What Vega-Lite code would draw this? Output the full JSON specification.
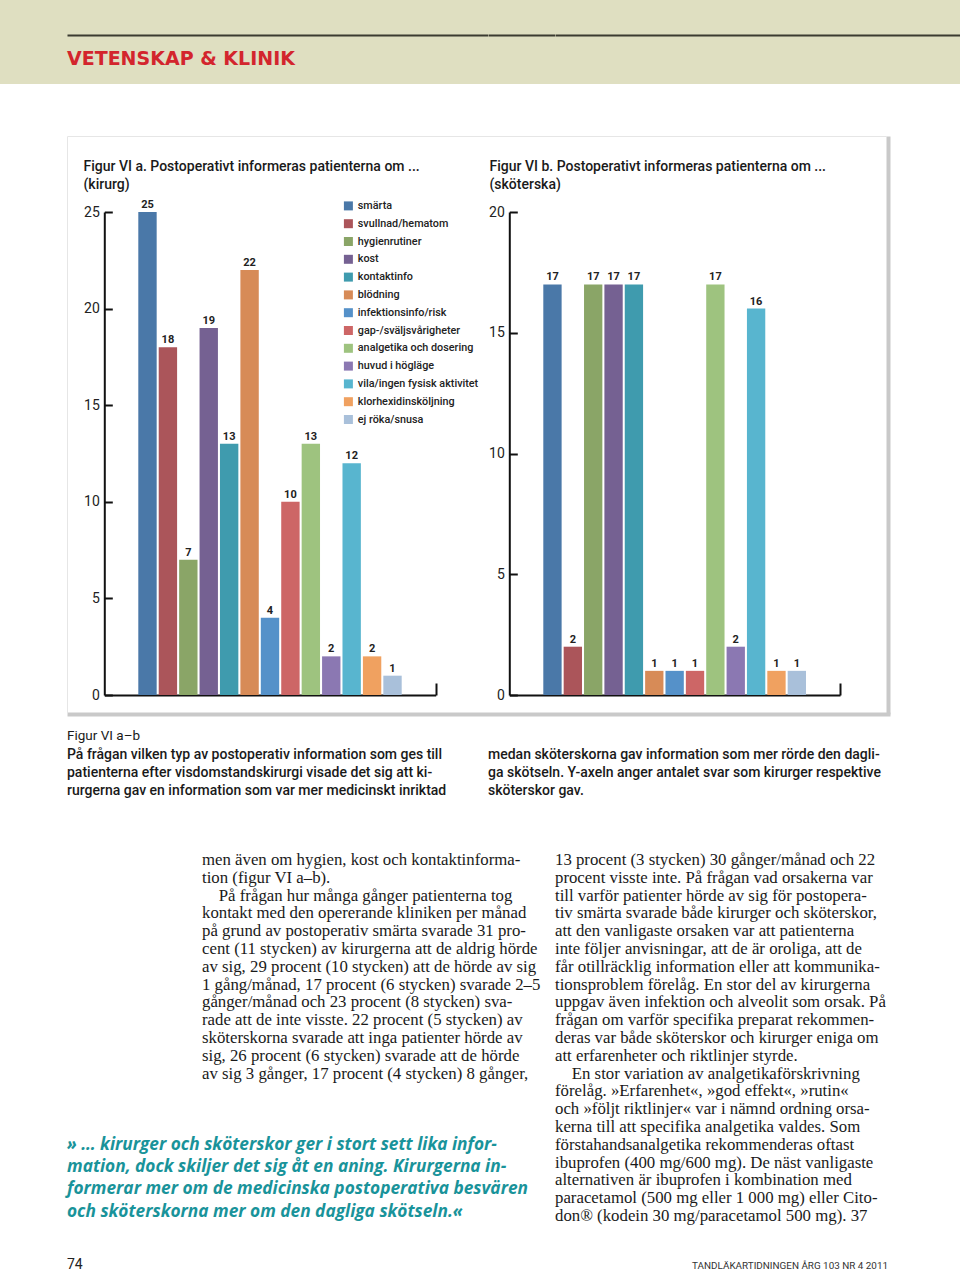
{
  "$schema": "https://vega.github.io/schema/vega-lite/v6.json",
  "padding": 0,
  "background": "white",
  "columns": 3,
  "spacing": 0,
  "bounds": "flush",
  "align": "each",
  "datasets": {
    "kirurg": [
      {"topic": "smärta", "n": 25},
      {"topic": "svullnad/hematom", "n": 18},
      {"topic": "hygienrutiner", "n": 7},
      {"topic": "kost", "n": 19},
      {"topic": "kontaktinfo", "n": 13},
      {"topic": "blödning", "n": 22},
      {"topic": "infektionsinfo/risk", "n": 4},
      {"topic": "gap-/sväljsvårigheter", "n": 10},
      {"topic": "analgetika och dosering", "n": 13},
      {"topic": "huvud i högläge", "n": 2},
      {"topic": "vila/ingen fysisk aktivitet", "n": 12},
      {"topic": "klorhexidinsköljning", "n": 2},
      {"topic": "ej röka/snusa", "n": 1}
    ],
    "skoterska": [
      {"topic": "smärta", "n": 17},
      {"topic": "svullnad/hematom", "n": 2},
      {"topic": "hygienrutiner", "n": 17},
      {"topic": "kost", "n": 17},
      {"topic": "kontaktinfo", "n": 17},
      {"topic": "blödning", "n": 1},
      {"topic": "infektionsinfo/risk", "n": 1},
      {"topic": "gap-/sväljsvårigheter", "n": 1},
      {"topic": "analgetika och dosering", "n": 17},
      {"topic": "huvud i högläge", "n": 2},
      {"topic": "vila/ingen fysisk aktivitet", "n": 16},
      {"topic": "klorhexidinsköljning", "n": 1},
      {"topic": "ej röka/snusa", "n": 1}
    ],
    "none": [],
    "one": [{"s": 0}]
  },
  "concat": [
    {
      "width": 488,
      "height": 84,
      "view": {"fill": "#dfdfc1", "stroke": null},
      "data": {"name": "one"},
      "mark": {"type": "point", "opacity": 0},
      "encoding": {
        "x": {"field": "s", "type": "quantitative", "scale": {"domain": [0, 1], "range": [67, 488]},
          "axis": {"orient": "top", "offset": -35, "domainColor": "#3b3b30", "domainWidth": 2, "ticks": false, "labels": false, "grid": false, "title": null}}
      },
      "title": {"text": "VETENSKAP & KLINIK", "orient": "bottom", "anchor": "start", "frame": "group", "offset": -34.5, "dx": 67,
        "font": "DejaVu Sans", "fontSize": 19, "fontWeight": "bold", "color": "#d3252d"}
    },
    {
      "width": 67,
      "height": 84,
      "view": {"fill": "#dfdfc1", "stroke": null},
      "data": {"name": "one"},
      "mark": {"type": "point", "opacity": 0},
      "encoding": {
        "x": {"field": "s", "type": "quantitative", "scale": {"domain": [0, 1]},
          "axis": {"orient": "top", "offset": -35, "domainColor": "#3b3b30", "domainWidth": 2, "ticks": false, "labels": false, "grid": false, "title": null}}
      }
    },
    {
      "width": 405,
      "height": 84,
      "view": {"fill": "#dfdfc1", "stroke": null},
      "data": {"name": "one"},
      "mark": {"type": "point", "opacity": 0},
      "encoding": {
        "x": {"field": "s", "type": "quantitative", "scale": {"domain": [0, 1]},
          "axis": {"orient": "top", "offset": -35, "domainColor": "#3b3b30", "domainWidth": 2, "ticks": false, "labels": false, "grid": false, "title": null}}
      }
    },

    {"data": {"name": "none"}, "mark": "point", "width": 488, "height": 52},
    {"data": {"name": "none"}, "mark": "point", "width": 0, "height": 0},
    {"data": {"name": "none"}, "mark": "point", "width": 0, "height": 0},

    {
      "width": 488,
      "height": 578,
      "layer": [
        {
          "data": {"name": "kirurg"},
          "encoding": {
            "x": {"field": "topic", "type": "nominal", "sort": null,
              "scale": {"range": [138.3, 401.7], "paddingInner": 0.1, "paddingOuter": 0, "round": false},
              "axis": null},
            "y": {"field": "n", "type": "quantitative",
              "scale": {"domain": [0, 25], "range": [559, 76], "nice": false},
              "axis": {"orient": "left", "offset": -104.3, "values": [0, 5, 10, 15, 20, 25], "tickSize": -8, "tickWidth": 2, "tickColor": "#111", "domainColor": "#111", "domainWidth": 2, "labelPadding": 13, "labelFont": "Roboto", "labelFontSize": 14, "labelColor": "#222", "grid": false,
                "title": ["Figur VI a. Postoperativt informeras patienterna om ...", "(kirurg)"], "titleX": -21.3, "titleY": 23.5, "titleAngle": 0, "titleAlign": "left", "titleBaseline": "top", "titleFont": "Roboto", "titleFontSize": 14, "titleFontWeight": 500, "titleColor": "#1a1a1a", "titleLineHeight": 18, "titlePadding": 0}}
          },
          "layer": [
            {
              "mark": {"type": "bar"},
              "encoding": {
                "color": {"field": "topic", "type": "nominal",
                  "scale": {"domain": ["smärta", "svullnad/hematom", "hygienrutiner", "kost", "kontaktinfo", "blödning", "infektionsinfo/risk", "gap-/sväljsvårigheter", "analgetika och dosering", "huvud i högläge", "vila/ingen fysisk aktivitet", "klorhexidinsköljning", "ej röka/snusa"],
                    "range": ["#4a78a8", "#ab555a", "#8aa567", "#756192", "#3f9bae", "#d78b57", "#5591c9", "#cd6666", "#9ec37f", "#8b78b2", "#58b5cf", "#f0a160", "#a9c0da"]},
                  "legend": {"orient": "none", "legendX": 343, "legendY": 200.5, "title": null, "symbolType": "square", "symbolSize": 81, "symbolStrokeWidth": 0, "symbolOpacity": 1, "labelFont": "Roboto", "labelFontSize": 10.8, "labelFontWeight": 500, "labelColor": "#222", "labelOffset": 4, "rowPadding": 5.8, "padding": 0, "labelLimit": 300}}
              }
            },
            {
              "mark": {"type": "text", "baseline": "bottom", "dy": -2, "font": "Roboto", "fontSize": 11, "fontWeight": "bold", "color": "#222"},
              "encoding": {"text": {"field": "n", "type": "quantitative"}}
            }
          ]
        },
        {
          "data": {"name": "skoterska"},
          "encoding": {
            "x": {"field": "topic", "type": "nominal", "sort": null,
              "scale": {"range": [543.3, 806], "paddingInner": 0.1, "paddingOuter": 0, "round": false},
              "axis": null},
            "y": {"field": "n", "type": "quantitative",
              "scale": {"domain": [0, 20], "range": [559, 76], "nice": false},
              "axis": {"orient": "left", "offset": -509.3, "values": [0, 5, 10, 15, 20], "tickSize": -8, "tickWidth": 2, "tickColor": "#111", "domainColor": "#111", "domainWidth": 2, "labelPadding": 13, "labelFont": "Roboto", "labelFontSize": 14, "labelColor": "#222", "grid": false,
                "title": ["Figur VI b. Postoperativt informeras patienterna om ...", "(sköterska)"], "titleX": -20.3, "titleY": 23.5, "titleAngle": 0, "titleAlign": "left", "titleBaseline": "top", "titleFont": "Roboto", "titleFontSize": 14, "titleFontWeight": 500, "titleColor": "#1a1a1a", "titleLineHeight": 18, "titlePadding": 0}}
          },
          "layer": [
            {
              "mark": {"type": "bar"},
              "encoding": {
                "color": {"field": "topic", "type": "nominal",
                  "scale": {"domain": ["smärta", "svullnad/hematom", "hygienrutiner", "kost", "kontaktinfo", "blödning", "infektionsinfo/risk", "gap-/sväljsvårigheter", "analgetika och dosering", "huvud i högläge", "vila/ingen fysisk aktivitet", "klorhexidinsköljning", "ej röka/snusa"],
                    "range": ["#4a78a8", "#ab555a", "#8aa567", "#756192", "#3f9bae", "#d78b57", "#5591c9", "#cd6666", "#9ec37f", "#8b78b2", "#58b5cf", "#f0a160", "#a9c0da"]},
                  "legend": {"orient": "none", "legendX": 343, "legendY": 200.5, "title": null, "symbolType": "square", "symbolSize": 81, "symbolStrokeWidth": 0, "symbolOpacity": 1, "labelFont": "Roboto", "labelFontSize": 10.8, "labelFontWeight": 500, "labelColor": "#222", "labelOffset": 4, "rowPadding": 5.8, "padding": 0, "labelLimit": 300}}
              }
            },
            {
              "mark": {"type": "text", "baseline": "bottom", "dy": -2, "font": "Roboto", "fontSize": 11, "fontWeight": "bold", "color": "#222"},
              "encoding": {"text": {"field": "n", "type": "quantitative"}}
            }
          ]
        },
        {
          "data": {"name": "one"},
          "mark": {"type": "point", "opacity": 0},
          "encoding": {
            "x": {"field": "s", "type": "quantitative", "scale": {"domain": [0, 1], "range": [104.3, 435.7]},
              "axis": {"orient": "bottom", "offset": -19, "values": [1], "tickSize": -12, "tickWidth": 2, "tickColor": "#111", "domainColor": "#111", "domainWidth": 2, "labels": false, "grid": false, "title": null}},
            "y": {"field": "s", "type": "quantitative", "scale": {"domain": [0, 1]},
              "axis": {"orient": "left", "offset": -888, "domainColor": "#c9c9c9", "domainWidth": 4, "ticks": false, "labels": false, "grid": false, "title": null}}
          }
        },
        {
          "data": {"name": "one"},
          "mark": {"type": "point", "opacity": 0},
          "encoding": {
            "x": {"field": "s", "type": "quantitative", "scale": {"domain": [0, 1], "range": [509.3, 840]},
              "axis": {"orient": "bottom", "offset": -19, "values": [1], "tickSize": -12, "tickWidth": 2, "tickColor": "#111", "domainColor": "#111", "domainWidth": 2, "labels": false, "grid": false, "title": null}},
            "y": {"field": "s", "type": "quantitative", "scale": {"domain": [0, 1]},
              "axis": {"orient": "left", "offset": -67, "domainColor": "#e6e6e6", "domainWidth": 1, "ticks": false, "labels": false, "grid": false, "title": null}}
          }
        },
        {
          "data": {"name": "one"},
          "mark": {"type": "point", "opacity": 0},
          "encoding": {
            "x": {"field": "s", "type": "quantitative", "scale": {"domain": [0, 1], "range": [67, 890]},
              "axis": {"orient": "bottom", "offset": 0, "domainColor": "#c9c9c9", "domainWidth": 4, "ticks": false, "labels": false, "grid": false, "title": null}},
            "y": {"field": "s", "type": "quantitative", "scale": {"domain": [0, 1]}, "axis": null}
          }
        },
        {
          "data": {"name": "one"},
          "mark": {"type": "point", "opacity": 0},
          "encoding": {
            "x": {"field": "s", "type": "quantitative", "scale": {"domain": [0, 1], "range": [67, 886]},
              "axis": {"orient": "top", "offset": 0, "domainColor": "#e6e6e6", "domainWidth": 1, "ticks": false, "labels": false, "grid": false, "title": null}},
            "y": {"field": "s", "type": "quantitative", "scale": {"domain": [0, 1]}, "axis": null}
          }
        }
      ],
      "resolve": {"scale": {"x": "independent", "y": "independent"}, "axis": {"x": "independent", "y": "independent"}}
    },
    {"data": {"name": "none"}, "mark": "point", "width": 0, "height": 0},
    {"data": {"name": "none"}, "mark": "point", "width": 0, "height": 0},

    {
      "data": {"name": "none"}, "mark": "point", "width": 488, "height": 139,
      "title": {"text": "Figur VI a–b",
        "subtitle": ["På frågan vilken typ av postoperativ information som ges till", "patienterna efter visdomstandskirurgi visade det sig att ki-", "rurgerna gav en information som var mer medicinskt inriktad"],
        "orient": "bottom", "anchor": "start", "frame": "group", "offset": -124.5, "dx": 67,
        "font": "Roboto", "fontSize": 13.5, "fontWeight": "normal", "color": "#1a1a1a",
        "subtitleFont": "Roboto", "subtitleFontSize": 14, "subtitleFontWeight": 500, "subtitleColor": "#1a1a1a", "subtitleLineHeight": 18, "subtitlePadding": 6.3}
    },
    {
      "data": {"name": "none"}, "mark": "point", "width": 67, "height": 1,
      "title": {"text": ["medan sköterskorna gav information som mer rörde den dagli-", "ga skötseln. Y-axeln anger antalet svar som kirurger respektive", "sköterskor gav."],
        "orient": "bottom", "anchor": "start", "frame": "group", "offset": 33.3,
        "font": "Roboto", "fontSize": 14, "fontWeight": 500, "color": "#1a1a1a", "lineHeight": 18}
    },
    {"data": {"name": "none"}, "mark": "point", "width": 0, "height": 0},

    {
      "data": {"name": "none"}, "mark": "point", "width": 488, "height": 282,
      "title": {"text": [
          "men även om hygien, kost och kontaktinforma-",
          "tion (figur VI a–b).",
          "\u200b\u2003På frågan hur många gånger patienterna tog",
          "kontakt med den opererande kliniken per månad",
          "på grund av postoperativ smärta svarade 31 pro-",
          "cent (11 stycken) av kirurgerna att de aldrig hörde",
          "av sig, 29 procent (10 stycken) att de hörde av sig",
          "1 gång/månad, 17 procent (6 stycken) svarade 2–5",
          "gånger/månad och 23 procent (8 stycken) sva-",
          "rade att de inte visste. 22 procent (5 stycken) av",
          "sköterskorna svarade att inga patienter hörde av",
          "sig, 26 procent (6 stycken) svarade att de hörde",
          "av sig 3 gånger, 17 procent (4 stycken) 8 gånger,"
        ],
        "orient": "bottom", "anchor": "start", "frame": "group", "offset": -283, "dx": 202,
        "font": "Liberation Serif", "fontSize": 16.8, "fontWeight": "normal", "color": "#1a1a1a", "lineHeight": 17.8}
    },
    {"data": {"name": "none"}, "mark": "point", "width": 0, "height": 0},
    {
      "data": {"name": "none"}, "mark": "point", "width": 405, "height": 1,
      "title": {"text": [
          "13 procent (3 stycken) 30 gånger/månad och 22",
          "procent visste inte. På frågan vad orsakerna var",
          "till varför patienter hörde av sig för postopera-",
          "tiv smärta svarade både kirurger och sköterskor,",
          "att den vanligaste orsaken var att patienterna",
          "inte följer anvisningar, att de är oroliga, att de",
          "får otillräcklig information eller att kommunika-",
          "tionsproblem förelåg. En stor del av kirurgerna",
          "uppgav även infektion och alveolit som orsak. På",
          "frågan om varför specifika preparat rekommen-",
          "deras var både sköterskor och kirurger eniga om",
          "att erfarenheter och riktlinjer styrde.",
          "\u200b\u2003En stor variation av analgetikaförskrivning",
          "förelåg. »Erfarenhet«, »god effekt«, »rutin«",
          "och »följt riktlinjer« var i nämnd ordning orsa-",
          "kerna till att specifika analgetika valdes. Som",
          "förstahandsanalgetika rekommenderas oftast",
          "ibuprofen (400 mg/600 mg). De näst vanligaste",
          "alternativen är ibuprofen i kombination med",
          "paracetamol (500 mg eller 1 000 mg) eller Cito-",
          "don® (kodein 30 mg/paracetamol 500 mg). 37"
        ],
        "orient": "bottom", "anchor": "start", "frame": "group", "offset": -2,
        "font": "Liberation Serif", "fontSize": 16.8, "fontWeight": "normal", "color": "#1a1a1a", "lineHeight": 17.8}
    },

    {
      "data": {"name": "none"}, "mark": "point", "width": 488, "height": 115,
      "title": {"text": [
          "» … kirurger och sköterskor ger i stort sett lika infor-",
          "mation, dock skiljer det sig åt en aning. Kirurgerna in-",
          "formerar mer om de medicinska postoperativa besvären",
          "och sköterskorna mer om den dagliga skötseln.«"
        ],
        "orient": "bottom", "anchor": "start", "frame": "group", "offset": -114.4, "dx": 67,
        "font": "Open Sans", "fontSize": 17.3, "fontWeight": "bold", "fontStyle": "italic", "color": "#19939a", "lineHeight": 22.4}
    },
    {"data": {"name": "none"}, "mark": "point", "width": 0, "height": 0},
    {"data": {"name": "none"}, "mark": "point", "width": 0, "height": 0},

    {
      "data": {"name": "none"}, "mark": "point", "width": 488, "height": 21,
      "title": {"text": "74", "orient": "bottom", "anchor": "start", "frame": "group", "offset": -13, "dx": 67,
        "font": "Roboto", "fontSize": 14, "fontWeight": "normal", "color": "#222"}
    },
    {"data": {"name": "none"}, "mark": "point", "width": 0, "height": 0},
    {
      "data": {"name": "none"}, "mark": "point", "width": 405, "height": 1,
      "title": {"text": "TANDLÄKARTIDNINGEN ÅRG 103 NR 4 2011", "orient": "bottom", "anchor": "end", "frame": "group", "offset": 10, "dx": -72,
        "font": "Roboto", "fontSize": 9.9, "fontWeight": "normal", "color": "#333"}
    }
  ],
  "config": {
    "view": {"stroke": null},
    "concat": {"spacing": 0},
    "axis": {"labelFont": "Roboto", "titleFont": "Roboto"},
    "legend": {"labelFont": "Roboto"}
  }
}
